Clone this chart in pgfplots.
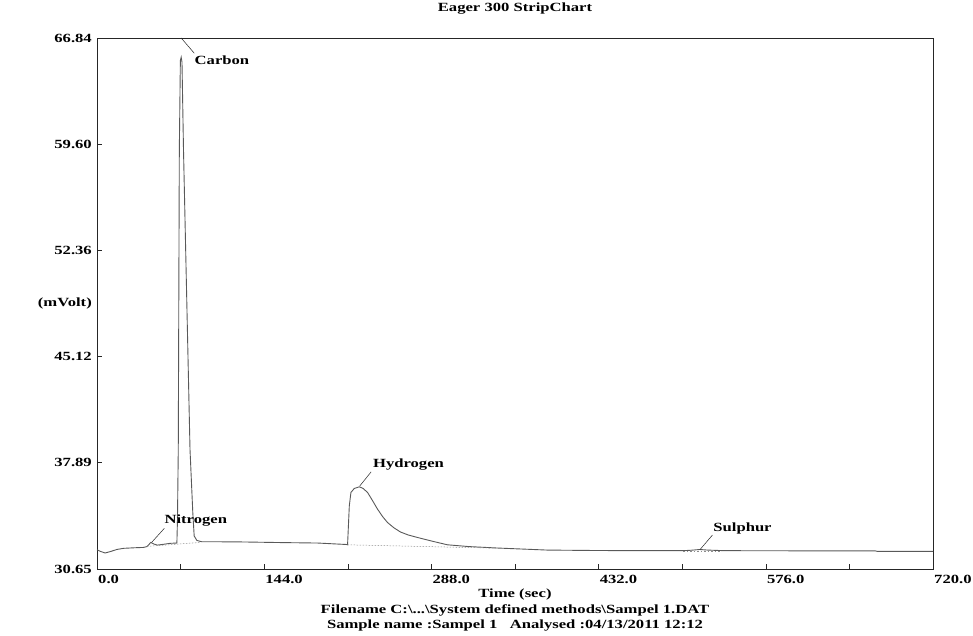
\documentclass[border=0pt]{standalone}
\usepackage{fontspec}
\setmainfont{Liberation Serif}[FakeStretch=1.33]
\usepackage{pgfplots}
\pgfplotsset{compat=1.18}
\definecolor{ink}{gray}{0.15}
\definecolor{trace}{gray}{0.35}
\definecolor{dots}{gray}{0.55}
\newcommand{\lbl}{\bfseries\fontsize{12.5}{15.5}\selectfont}
\begin{document}
\begin{tikzpicture}
\path[use as bounding box] (0,0) rectangle (973pt,635pt);
\begin{axis}[
  at={(97pt,66pt)}, anchor=south west,
  scale only axis, width=836pt, height=531pt,
  xmin=0, xmax=720, ymin=30.65, ymax=66.84,
  axis line style={ink, line width=0.8pt},
  xtick={0,144,288,432,576,720},
  xticklabels={0.0,144.0,288.0,432.0,576.0,720.0},
  ytick={30.65,37.89,45.12,52.36,59.60,66.84},
  yticklabels={30.65,37.89,45.12,52.36,59.60,66.84},
  minor x tick num=1, minor y tick num=1,
  xtick pos=bottom, ytick pos=left,
  tick align=inside,
  major tick length=5pt, minor tick length=5pt,
  tick style={ink, line width=0.6pt},
  xticklabel style={font=\lbl, anchor=north west, inner sep=0pt, xshift=1pt, yshift=-6pt},
  yticklabel style={font=\lbl, anchor=east, inner sep=0pt, xshift=-5pt},
  title={Eager 300 StripChart},
  title style={font=\lbl, at={(0.5,1)}, anchor=center, inner sep=0pt, yshift=23pt},
  xlabel={Time (sec)\\Filename C:\textbackslash...\textbackslash{}System defined methods\textbackslash{}Sampel 1.DAT\\Sample name :Sampel 1\ \ \ Analysed :04/13/2011 12:12},
  xlabel style={font=\lbl, align=center, at={(0.5,0)}, anchor=north, inner sep=0pt, yshift=-20pt},
  clip=false,
]
% main trace
\addplot[trace, line width=0.9pt] coordinates {
(0,31.96) (3,31.85) (7,31.74) (12,31.85) (17,31.98) (23,32.06) (33,32.10)
(40,32.12) (43,32.18) (46.4,32.46) (49,32.35) (52,32.28) (57,32.33) (63,32.40)
(68.8,32.42) (69.3,34.0) (70,38.8) (70.9,59.2) (71.8,65.3) (72.5,65.53) (73.2,65.2)
(74.5,59.2) (80.1,38.8) (82.5,34.5) (83.7,32.9) (86,32.6) (90,32.51)
(120,32.50) (160,32.45) (190,32.42) (215,32.32) (215.8,32.30)
(217.3,34.96) (218.7,35.87) (221.6,36.14) (225.9,36.25) (229,36.15) (233,35.87)
(237,35.35) (241.6,34.73) (246,34.22) (250.2,33.82) (255.5,33.47) (261.4,33.17)
(268,32.97) (276,32.80) (285,32.62) (293.2,32.46) (301.8,32.30) (320,32.18)
(344.8,32.08) (387.8,31.94) (430.8,31.91) (473,31.90) (505,31.90) (512,31.93)
(519,31.98) (526,31.94) (540,31.90) (600,31.89) (670,31.89) (672,31.85) (720,31.85)
};
% dotted baselines
\addplot[dots, line width=0.5pt, dash pattern=on 1.5pt off 1.5pt] coordinates {(43,32.19) (88.6,32.46)};
\addplot[dots, line width=0.5pt, dash pattern=on 1.5pt off 1.5pt] coordinates {(215.8,32.30) (344,32.07)};
\addplot[dots, line width=0.5pt, dash pattern=on 1.5pt off 2pt] coordinates {(505,31.87) (538,31.87)};
% leader lines
\addplot[ink, line width=0.5pt] coordinates {(72.5,66.84) (83.8,65.8)};
\addplot[ink, line width=0.5pt] coordinates {(47,32.46) (58,33.42)};
\addplot[ink, line width=0.5pt] coordinates {(226.2,36.3) (236.1,37.27)};
\addplot[ink, line width=0.5pt] coordinates {(519.2,31.96) (530,32.96)};
% peak labels
\node[font=\lbl, anchor=west, inner sep=0pt] at (axis cs:84,65.34) {Carbon};
\node[font=\lbl, anchor=west, inner sep=0pt] at (axis cs:58,33.93) {Nitrogen};
\node[font=\lbl, anchor=west, inner sep=0pt] at (axis cs:237.6,37.79) {Hydrogen};
\node[font=\lbl, anchor=west, inner sep=0pt] at (axis cs:530.7,33.42) {Sulphur};
\node[font=\lbl, anchor=east, inner sep=0pt] at (axis cs:0,48.74) [xshift=-5pt] {(mVolt)};
\end{axis}
\end{tikzpicture}
\end{document}
